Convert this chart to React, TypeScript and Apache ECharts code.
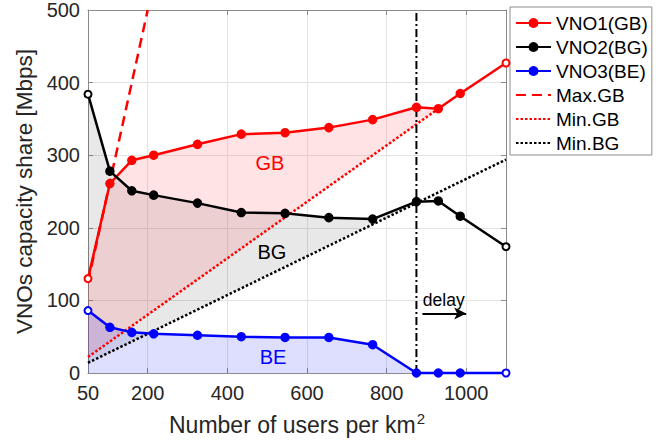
import React, { useEffect, useRef } from 'react';
import * as echarts from 'echarts';

// ---- data ----
const users = [50, 105, 160, 215, 325, 435, 545, 655, 765, 875, 930, 985, 1100];
const vno1GB = [130, 261, 293, 300, 315, 329, 331, 338, 349, 366, 364, 385, 427];
const vno2BG = [384, 278, 251, 245, 234, 221, 220, 214, 212, 236, 237, 216, 174];
const vno3BE = [86, 63, 56, 54, 52, 50, 49, 49, 39, 0, 0, 0, 0];

const maxGBUsers = [50, 200];
const maxGBValues = [125, 500];
const minGBUsers = [50, 930];
const minGBValues = [22, 364];
const minBGUsers = [50, 1100];
const minBGValues = [14, 294];

const delayUsers = 875;
const delayArrowUsers = [890, 1000];
const delayArrowValue = 82;
const delayTextPos = [891, 101];

const regionNames = ['GB', 'BG', 'BE'];
const regionX = [507, 512, 515];
const regionY = [289, 166, 22];

const xTickLabels = [50, 200, 400, 600, 800, 1000];
const xTicks = [200, 400, 600, 800, 1000];
const xMin = 50;
const xMax = 1100;
const yMin = 0;
const yMax = 500;
const yStep = 100;

const FONT = '"Liberation Sans", Arial, Helvetica, sans-serif';

export default function App() {
  const ref = useRef<HTMLDivElement>(null);

  useEffect(() => {
    if (!ref.current) return;
    const chart = echarts.init(ref.current, undefined, { renderer: 'svg' });

    const pts = (xs: number[], ys: number[]) => xs.map((x, i) => [x, ys[i]]);

    const gbEnd = users.indexOf(minGBUsers[1]);
    const bgEnd = users.indexOf(delayUsers);
    const beEnd = users.indexOf(delayUsers);

    const pinkPoly = [...pts(users, vno1GB).slice(0, gbEnd + 1), [minGBUsers[0], minGBValues[0]]];
    const grayPoly = [...pts(users, vno2BG).slice(0, bgEnd + 1), [minBGUsers[0], minBGValues[0]]];
    const bluePoly = [...pts(users, vno3BE).slice(0, beEnd + 1), [users[0], 0]];

    const polygonSeries = (poly: number[][], fill: string) => ({
      type: 'custom',
      silent: true,
      z: 1,
      data: [poly[0]],
      renderItem: (_p: any, api: any) => ({
        type: 'polygon',
        shape: { points: poly.map((p) => api.coord(p)) },
        style: { fill },
      }),
    });

    const textSeries = (pos: number[], text: string, color: string, fontSize: number, align: string) => ({
      type: 'custom',
      silent: true,
      z: 6,
      data: [pos],
      renderItem: (_p: any, api: any) => {
        const c = api.coord([api.value(0), api.value(1)]);
        return {
          type: 'text',
          x: c[0],
          y: c[1],
          style: { text, fill: color, fontSize, fontFamily: FONT, align, verticalAlign: 'middle' },
        };
      },
    });

    const markerLine = (name: string, ys: number[], color: string) => ({
      name,
      type: 'line',
      z: 4,
      symbol: 'circle',
      symbolSize: 8,
      showSymbol: true,
      clip: false,
      lineStyle: { color, width: 2.5 },
      itemStyle: { color, borderColor: color, borderWidth: 1.5 },
      data: users.map((u, i) => {
        const end = i === 0 || i === users.length - 1;
        return { value: [u, ys[i]], symbol: end ? 'emptyCircle' : 'circle', symbolSize: end ? 7 : 8 };
      }),
    });

    const refLine = (name: string, xs: number[], ys: number[], color: string, type: any) => ({
      name,
      type: 'line',
      z: 3,
      symbol: 'none',
      lineStyle: { color, width: 2.5, type },
      itemStyle: { color },
      data: pts(xs, ys),
    });

    const axisColor = '#8a8a8a';
    const labelColor = '#262626';
    const hiddenIcon = { itemStyle: { opacity: 0 } };

    chart.setOption({
      animation: false,
      grid: { left: 88, top: 8, width: 418, height: 365 },
      legend: {
        orient: 'vertical',
        left: 510,
        top: 7,
        padding: [4, 4, 0, 5],
        itemGap: 0,
        itemWidth: 35,
        itemHeight: 10,
        borderColor: '#8c8c8c',
        borderWidth: 1,
        backgroundColor: '#fff',
        textStyle: { fontSize: 19, lineHeight: 24, color: '#000', fontFamily: FONT },
        data: [
          'VNO1(GB)',
          'VNO2(BG)',
          'VNO3(BE)',
          { name: 'Max.GB', ...hiddenIcon },
          { name: 'Min.GB', ...hiddenIcon },
          { name: 'Min.BG', ...hiddenIcon },
        ],
      },
      xAxis: [
        {
          type: 'value',
          min: xMin,
          max: xMax,
          name: 'Number of users per km{sup|2}',
          nameLocation: 'middle',
          nameGap: 38,
          nameTextStyle: {
            fontSize: 23,
            color: labelColor,
            fontFamily: FONT,
            rich: { sup: { fontSize: 15, color: labelColor, fontFamily: FONT, verticalAlign: 'top', padding: [0, 0, 12, 1] } },
          },
          axisLine: { show: true, lineStyle: { color: axisColor, width: 1 } },
          axisTick: { show: true, inside: true, length: 5, customValues: xTicks, lineStyle: { color: axisColor } },
          axisLabel: {
            customValues: xTickLabels,
            formatter: (v: number) => String(v),
            fontSize: 20,
            color: labelColor,
            fontFamily: FONT,
            margin: 10,
          },
          splitLine: { show: true, lineStyle: { color: '#e3e3e3', width: 1 } },
        },
        {
          type: 'value',
          position: 'top',
          min: xMin,
          max: xMax,
          axisLine: { show: true, onZero: false, lineStyle: { color: axisColor, width: 1 } },
          axisTick: { show: true, inside: true, length: 5, customValues: xTicks, lineStyle: { color: axisColor } },
          axisLabel: { show: false },
          splitLine: { show: false },
        },
      ],
      yAxis: [
        {
          type: 'value',
          min: yMin,
          max: yMax,
          interval: yStep,
          name: 'VNOs capacity share [Mbps]',
          nameLocation: 'middle',
          nameGap: 50,
          nameTextStyle: { fontSize: 22.5, color: labelColor, fontFamily: FONT },
          axisLine: { show: true, lineStyle: { color: axisColor, width: 1 } },
          axisTick: { show: true, inside: true, length: 5, lineStyle: { color: axisColor } },
          axisLabel: { fontSize: 20, color: labelColor, fontFamily: FONT, margin: 8 },
          splitLine: { show: true, lineStyle: { color: '#e3e3e3', width: 1 } },
        },
        {
          type: 'value',
          position: 'right',
          min: yMin,
          max: yMax,
          interval: yStep,
          axisLine: { show: true, onZero: false, lineStyle: { color: axisColor, width: 1 } },
          axisTick: { show: true, inside: true, length: 5, lineStyle: { color: axisColor } },
          axisLabel: { show: false },
          splitLine: { show: false },
        },
      ],
      series: [
        polygonSeries(grayPoly, 'rgba(0,0,0,0.09)'),
        polygonSeries(pinkPoly, 'rgba(255,70,80,0.15)'),
        polygonSeries(bluePoly, 'rgba(0,0,255,0.13)'),
        refLine('Max.GB', maxGBUsers, maxGBValues, '#ff0000', [10, 6]),
        refLine('Min.GB', minGBUsers, minGBValues, '#ff0000', [2.5, 2]),
        refLine('Min.BG', minBGUsers, minBGValues, '#000000', [2.5, 2]),
        {
          type: 'line',
          z: 3,
          symbol: 'none',
          silent: true,
          lineStyle: { color: '#000', width: 2, type: [8, 3, 2, 3] },
          data: [[delayUsers, yMin], [delayUsers, yMax]],
          markLine: {
            silent: true,
            symbol: ['none', 'arrow'],
            symbolSize: [9, 12],
            label: { show: false },
            lineStyle: { color: '#000', width: 2, type: 'solid' },
            data: [[{ coord: [delayArrowUsers[0], delayArrowValue] }, { coord: [delayArrowUsers[1], delayArrowValue] }]],
          },
        },
        markerLine('VNO1(GB)', vno1GB, '#ff0000'),
        markerLine('VNO2(BG)', vno2BG, '#000000'),
        markerLine('VNO3(BE)', vno3BE, '#0000ff'),
        textSeries([regionX[0], regionY[0]], regionNames[0], '#ff0000', 20, 'center'),
        textSeries([regionX[1], regionY[1]], regionNames[1], '#000000', 20, 'center'),
        textSeries([regionX[2], regionY[2]], regionNames[2], '#0000ff', 20, 'center'),
        textSeries(delayTextPos, 'delay', '#000000', 17.5, 'left'),
      ],
    });

    return () => chart.dispose();
  }, []);

  return <div ref={ref} style={{ position: 'absolute', left: 0, top: 0, width: 667, height: 446 }} />;
}
